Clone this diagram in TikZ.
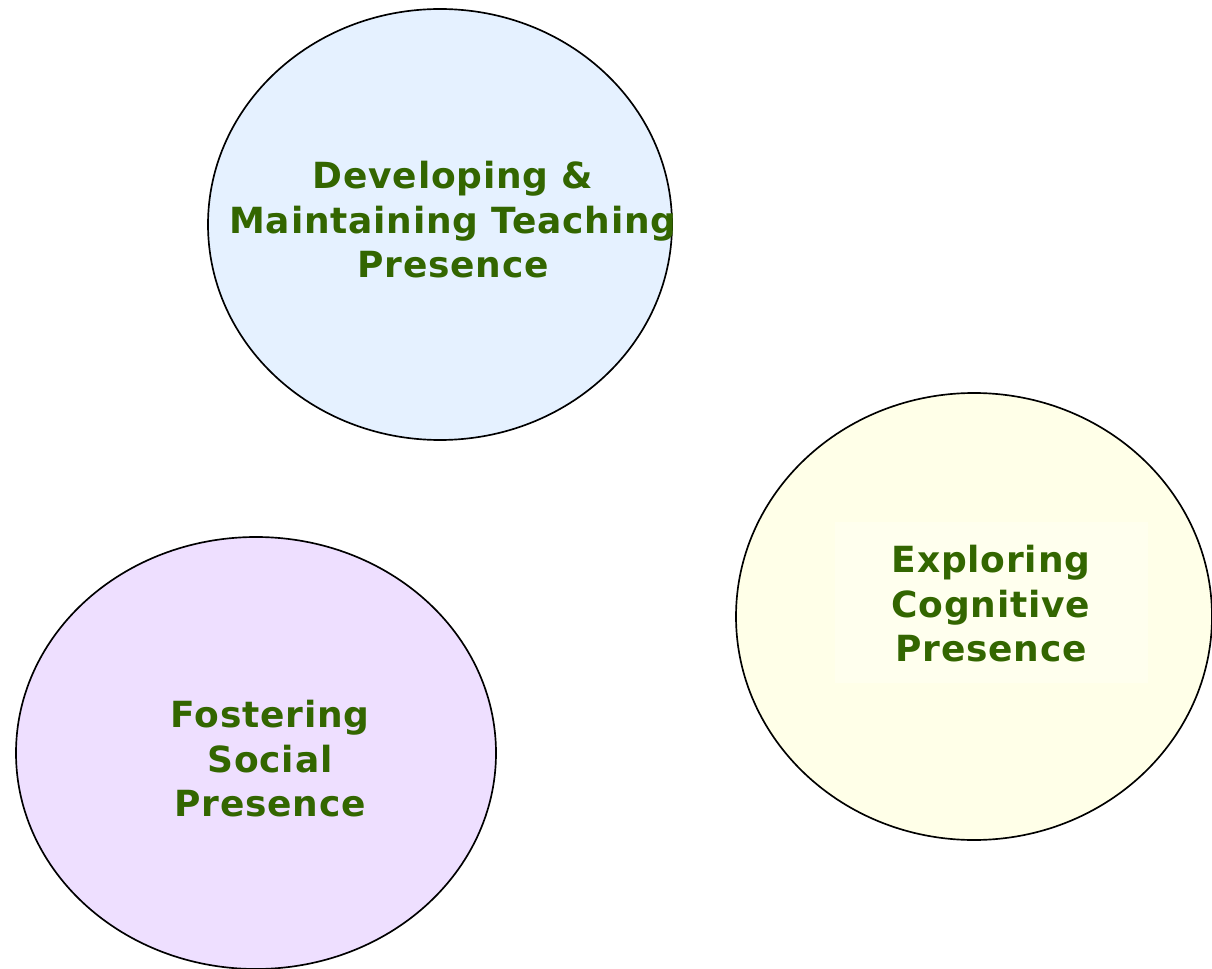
\documentclass[tikz,border=0pt]{standalone}
\usepackage{fontspec}
\setmainfont{DejaVu Sans}[LetterSpace=2.2]
\usetikzlibrary{shapes.geometric}
\definecolor{txtgreen}{HTML}{336600}
\definecolor{fillblue}{HTML}{E5F1FF}
\definecolor{fillyellow}{HTML}{FFFFE8}
\definecolor{fillyellowlight}{HTML}{FFFFEE}
\definecolor{fillpurple}{HTML}{EEDFFF}
\tikzset{
  bubble/.style={draw=black, line width=1.25pt},
  label/.style={text=txtgreen, align=center, font=\fontsize{27}{33.4}\selectfont\bfseries, inner sep=0pt},
}
\begin{document}
\begin{tikzpicture}[x=0.75pt, y=-0.75pt]
\useasboundingbox[fill=white] (0,0) rectangle (1212,969);
\begin{scope}
\clip (0,0) rectangle (1212,969);
\draw[bubble, fill=fillblue] (440,224.5) ellipse [x radius=232, y radius=215.5];
\draw[bubble, fill=fillyellow] (974,616.5) ellipse [x radius=238, y radius=223.5];
\draw[bubble, fill=fillpurple] (256,753) ellipse [x radius=240, y radius=216];
\fill[fillyellowlight] (835,522) rectangle (1148,683);
\end{scope}
\node[label] (teach) at (453,220) {Developing \&\\Maintaining Teaching\\Presence};
\node[label] (cog) at (991,604) {Exploring\\Cognitive\\Presence};
\node[label] (soc) at (270,759) {Fostering\\Social\\Presence};
\end{tikzpicture}
\end{document}
